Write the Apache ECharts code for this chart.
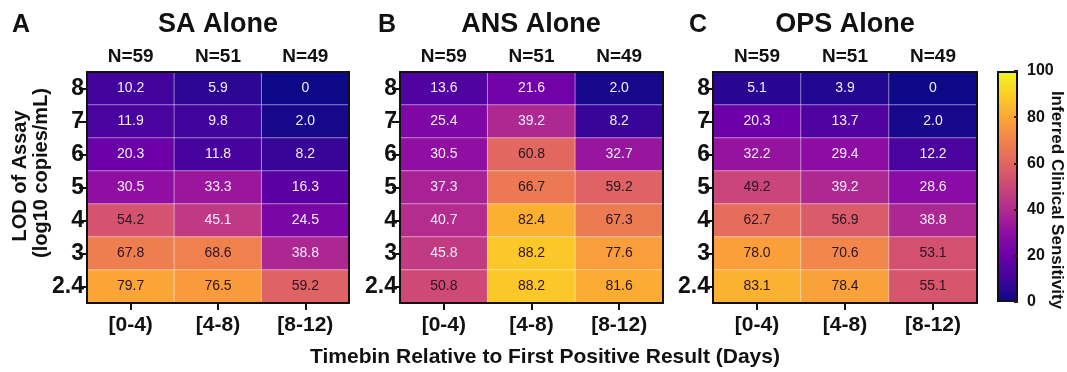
<!DOCTYPE html>
<html>
<head>
<meta charset="utf-8">
<script src="https://cdn.jsdelivr.net/npm/echarts@6/dist/echarts.min.js"></script>
<style>
  html, body { margin: 0; padding: 0; background: #fff; }
  #chart { width: 1067px; height: 372px; }
</style>
</head>
<body>
<div id="chart"></div>
<script>
// Categories
const timeBins = ['[0-4)', '[4-8)', '[8-12)'];
const sampleSizes = ['N=59', 'N=51', 'N=49'];
const lodLevels = ['8', '7', '6', '5', '4', '3', '2.4'];   // top to bottom
const panelLetters = ['A', 'B', 'C'];
const panelTitles = ['SA Alone', 'ANS Alone', 'OPS Alone'];

// Inferred clinical sensitivity (%), rows follow lodLevels, columns follow timeBins
const saAlone = [
  [10.2, 5.9, 0],
  [11.9, 9.8, 2.0],
  [20.3, 11.8, 8.2],
  [30.5, 33.3, 16.3],
  [54.2, 45.1, 24.5],
  [67.8, 68.6, 38.8],
  [79.7, 76.5, 59.2]
];
const ansAlone = [
  [13.6, 21.6, 2.0],
  [25.4, 39.2, 8.2],
  [30.5, 60.8, 32.7],
  [37.3, 66.7, 59.2],
  [40.7, 82.4, 67.3],
  [45.8, 88.2, 77.6],
  [50.8, 88.2, 81.6]
];
const opsAlone = [
  [5.1, 3.9, 0],
  [20.3, 13.7, 2.0],
  [32.2, 29.4, 12.2],
  [49.2, 39.2, 28.6],
  [62.7, 56.9, 38.8],
  [78.0, 70.6, 53.1],
  [83.1, 78.4, 55.1]
];
const panelValues = [saAlone, ansAlone, opsAlone];

// Colour scale range
const scaleMin = 0;
const scaleMax = 100;

const FONT = '"Liberation Sans", Arial, Helvetica, sans-serif';
const INK = '#111';
const plasma = ['#0d0887', '#41049d', '#6a00a8', '#8f0da4', '#b12a90', '#cc4778',
                '#e16462', '#f2844b', '#fca636', '#fcce25', '#f0f921'];

const panelBoxes = [
  { left: 87, width: 262, cx: 218, letterX: 12 },
  { left: 400, width: 263, cx: 531, letterX: 378 },
  { left: 713, width: 264, cx: 845, letterX: 689 }
];
const GRID_TOP = 72;
const GRID_HEIGHT = 231;

const fmt = v => (v === 0 ? '0' : v.toFixed(1));

const grids = [];
const xAxes = [];
const yAxes = [];
const series = [];
const graphics = [];

const blackLine = { show: true, lineStyle: { color: INK, width: 2 } };

panelValues.forEach((rows, i) => {
  const box = panelBoxes[i];
  grids.push({ left: box.left, top: GRID_TOP, width: box.width, height: GRID_HEIGHT });

  xAxes.push({
    type: 'category', gridIndex: i, position: 'bottom', data: timeBins, z: 10,
    axisLine: blackLine,
    axisTick: { show: true, alignWithLabel: true, length: 7, lineStyle: { color: INK, width: 2 } },
    axisLabel: { color: INK, fontFamily: FONT, fontWeight: 'bold', fontSize: 21, margin: 12 },
    splitLine: { show: false }
  });
  xAxes.push({
    type: 'category', gridIndex: i, position: 'top', data: sampleSizes, z: 10,
    axisLine: blackLine,
    axisTick: { show: false },
    axisLabel: { color: INK, fontFamily: FONT, fontWeight: 'bold', fontSize: 19, margin: 6 },
    splitLine: { show: false }
  });

  yAxes.push({
    type: 'category', gridIndex: i, position: 'left', data: lodLevels, inverse: true, z: 10,
    axisLine: blackLine,
    axisTick: { show: true, alignWithLabel: true, length: 8, lineStyle: { color: INK, width: 2 } },
    axisLabel: { color: INK, fontFamily: FONT, fontWeight: 'bold', fontSize: 23, margin: 3 },
    splitLine: { show: false }
  });
  yAxes.push({
    type: 'category', gridIndex: i, position: 'right', data: lodLevels, inverse: true, z: 10,
    axisLine: blackLine,
    axisTick: { show: false },
    axisLabel: { show: false },
    splitLine: { show: false }
  });

  const data = [];
  rows.forEach((row, r) => {
    row.forEach((v, c) => {
      data.push({
        value: [c, r, v],
        label: { color: v >= 47 ? '#2a1420' : '#f4ecff' }
      });
    });
  });

  series.push({
    type: 'heatmap',
    xAxisIndex: 2 * i,
    yAxisIndex: 2 * i,
    data: data,
    label: {
      show: true,
      fontFamily: FONT,
      fontSize: 14,
      formatter: p => fmt(p.value[2])
    },
    itemStyle: { borderColor: 'rgba(255,255,255,0.45)', borderWidth: 1 },
    emphasis: { disabled: true }
  });

  graphics.push({
    type: 'text', x: box.letterX, y: 25,
    style: { text: panelLetters[i], font: 'bold 25px ' + FONT, fill: INK,
             textAlign: 'left', textVerticalAlign: 'middle' }
  });
  graphics.push({
    type: 'text', x: box.cx, y: 25,
    style: { text: panelTitles[i], font: 'bold 27px ' + FONT, fill: INK,
             textAlign: 'center', textVerticalAlign: 'middle' }
  });
});

// Y-axis title (two lines, rotated)
graphics.push({
  type: 'text', x: 20, y: 176, rotation: Math.PI / 2,
  style: { text: 'LOD of Assay', font: 'bold 20px ' + FONT, fill: INK,
           textAlign: 'center', textVerticalAlign: 'middle' }
});
graphics.push({
  type: 'text', x: 41, y: 173, rotation: Math.PI / 2,
  style: { text: '(log10 copies/mL)', font: 'bold 20px ' + FONT, fill: INK,
           textAlign: 'center', textVerticalAlign: 'middle' }
});

// Colour bar
grids.push({ left: 997, top: 71, width: 21, height: 231 });
xAxes.push({
  type: 'category', gridIndex: 3, data: [''], show: false
});
yAxes.push({
  type: 'value', gridIndex: 3, position: 'right', min: scaleMin, max: scaleMax, interval: 20, z: 10,
  axisLine: { show: false },
  axisTick: { show: true, inside: true, length: 4, lineStyle: { color: '#3a1a1a', width: 2 } },
  axisLabel: { color: INK, fontFamily: FONT, fontWeight: 'bold', fontSize: 16, margin: 9 },
  splitLine: { show: false }
});
series.push({
  type: 'bar',
  xAxisIndex: 6,
  yAxisIndex: 6,
  data: [scaleMax],
  barWidth: '100%',
  silent: true,
  itemStyle: {
    color: new echarts.graphic.LinearGradient(0, 1, 0, 0,
      plasma.map((c, k) => ({ offset: k / (plasma.length - 1), color: c }))),
    borderColor: INK,
    borderWidth: 2
  }
});
graphics.push({
  type: 'text', x: 1057, y: 200, rotation: -Math.PI / 2,
  style: { text: 'Inferred Clinical Sensitivity', font: 'bold 17px ' + FONT, fill: INK,
           textAlign: 'center', textVerticalAlign: 'middle' }
});

// Shared x-axis title
graphics.push({
  type: 'text', x: 545, y: 357,
  style: { text: 'Timebin Relative to First Positive Result (Days)', font: 'bold 21px ' + FONT,
           fill: INK, textAlign: 'center', textVerticalAlign: 'middle' }
});

const chart = echarts.init(document.getElementById('chart'), null, { renderer: 'canvas' });
chart.setOption({
  animation: false,
  backgroundColor: '#fff',
  grid: grids,
  xAxis: xAxes,
  yAxis: yAxes,
  visualMap: {
    show: false,
    type: 'continuous',
    min: scaleMin,
    max: scaleMax,
    dimension: 2,
    seriesIndex: [0, 1, 2],
    inRange: { color: plasma }
  },
  series: series,
  graphic: graphics
});
</script>
</body>
</html>
